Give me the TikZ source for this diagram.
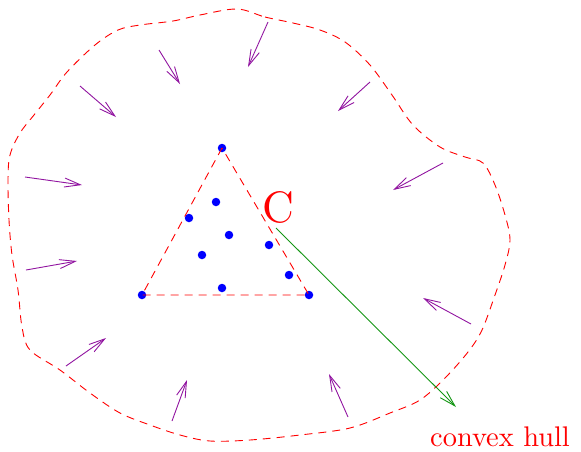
\documentclass[tikz,border=0pt]{standalone}
\usetikzlibrary{arrows.meta}
\definecolor{arrpurple}{RGB}{145,20,160}
\definecolor{hullred}{RGB}{255,0,0}
\definecolor{arrgreen}{RGB}{20,150,20}
\begin{document}
\begin{tikzpicture}[x=1pt,y=-1pt,
  dot/.style={circle,fill=blue,inner sep=0pt,minimum size=8.5pt},
  hull/.style={hullred,line width=0.9pt,dash pattern=on 8pt off 6pt},
  parrow/.style={arrpurple,line width=0.9pt,-{Straight Barb[length=16pt,width=9pt,line width=0.9pt]}},
  garrow/.style={arrgreen,line width=0.9pt,-{Straight Barb[length=16pt,width=9pt,line width=0.9pt]}},
  lbl/.style={text=red,inner sep=0pt}]
\useasboundingbox (0,0) rectangle (581,451);
% outer region
\draw[hull] plot[smooth cycle,tension=0.55] coordinates{
 (237,9) (265,17) (293,23) (320,30) (345,42) (370,65) (392,95) (413,125)
 (440,147) (465,157) (483,163) (495,185) (505,215) (510,240) (505,265)
 (495,295) (482,330) (468,352) (445,378) (420,400) (390,413) (350,428)
 (300,435) (250,440) (210,441) (180,435) (150,425) (120,413) (90,393)
 (60,370) (30,350) (22,327) (18,290) (12,255) (9,220) (8,180) (10,155)
 (20,133) (34,115) (50,95) (67,72) (95,45) (118,30) (140,25) (173,21)
 (200,15)};
% points
\node[dot] (p1) at (222,148) {};
\node[dot] (p2) at (216,202) {};
\node[dot] (p3) at (189,218) {};
\node[dot] (p4) at (229,235) {};
\node[dot] (p5) at (269,245) {};
\node[dot] (p6) at (202,255) {};
\node[dot] (p7) at (289,275) {};
\node[dot] (p8) at (222,288) {};
\node[dot] (p9) at (142,295) {};
\node[dot] (p10) at (309,295) {};
% hull triangle
\draw[hull] (p1.center) -- (p9.center) -- (p10.center) -- cycle;
% labels
\node[lbl,anchor=base] (C) at (278,222) {\scalebox{4.4}{\fontsize{10}{12}\selectfont C}};
\node[lbl,anchor=base west] (ch) at (430,446) {\scalebox{2.84}{\fontsize{10}{12}\selectfont convex hull}};
% green arrow
\coordinate (gs) at (276,228);
\coordinate (ge) at (456,407);
\draw[garrow] (gs) -- (ge);
% purple arrows
\foreach \i/\sx/\sy/\ex/\ey in {
 1/268/22/248/67, 2/159/50/180/84, 3/80/86/116/117, 4/25/177/82/185,
 5/370/82/338/111, 6/443/163/393/190, 7/471/324/423/298, 8/26/270/77/261,
 9/66/366/106/338, 10/172/421/187/380, 11/348/417/329/374}{
 \coordinate (s\i) at (\sx,\sy);
 \coordinate (e\i) at (\ex,\ey);
 \draw[parrow] (s\i) -- (e\i);
}
\end{tikzpicture}
\end{document}
